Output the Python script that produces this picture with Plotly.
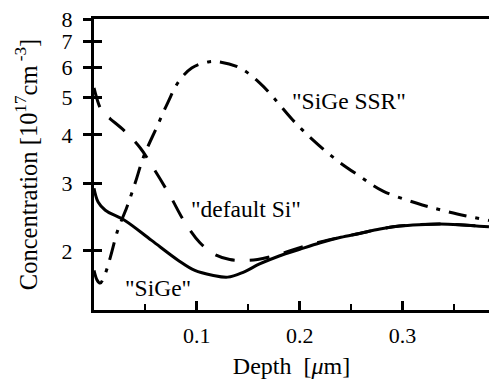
import numpy as np
import plotly.graph_objects as go

# Data (depth in um, concentration in 1e17 cm^-3)
sige_x = [0, 0.004, 0.011, 0.030, 0.056, 0.082, 0.098, 0.115, 0.130, 0.145, 0.161, 0.18, 0.2,
          0.22, 0.24, 0.258, 0.278, 0.297, 0.316, 0.336, 0.355, 0.384]
sige_y = [2.91, 2.68, 2.55, 2.40, 2.13, 1.89, 1.78, 1.73, 1.71, 1.76, 1.85, 1.94, 2.02,
          2.10, 2.17, 2.22, 2.28, 2.32, 2.34, 2.35, 2.34, 2.31]

si_x = [0, 0.008, 0.016, 0.03, 0.045, 0.059, 0.074, 0.088, 0.103, 0.117, 0.132, 0.147, 0.159,
        0.18, 0.2, 0.22, 0.24, 0.258, 0.278, 0.297, 0.316, 0.336, 0.355, 0.384]
si_y = [5.3, 4.59, 4.40, 4.09, 3.70, 3.24, 2.78, 2.38, 2.10, 1.96, 1.90, 1.89, 1.90,
        1.96, 2.04, 2.11, 2.17, 2.22, 2.28, 2.32, 2.34, 2.35, 2.34, 2.31]

ssr_x = [0, 0.003, 0.006, 0.01, 0.016, 0.023, 0.032, 0.04, 0.048, 0.061, 0.072, 0.082, 0.095,
         0.111, 0.122, 0.142, 0.161, 0.174, 0.193, 0.213, 0.236, 0.258, 0.281, 0.314, 0.346, 0.384]
ssr_y = [1.78, 1.68, 1.65, 1.72, 1.93, 2.26, 2.60, 3.00, 3.50, 4.19, 4.87, 5.49, 5.97,
         6.19, 6.19, 5.97, 5.46, 5.02, 4.38, 3.88, 3.44, 3.13, 2.86, 2.66, 2.52, 2.40]

labels = ['"SiGe SSR"', '"default Si"', '"SiGe"']
label_x = [0.248, 0.148, 0.0626]
label_y = [4.9, 2.57, 1.60]

x_ticks = [0.1, 0.2, 0.3]
x_minor = [0.05, 0.15, 0.25, 0.35]
y_ticks = [2, 3, 4, 5, 6, 7, 8]

FONT = "'Times New Roman', 'Liberation Serif', 'DejaVu Serif', serif"
fig = go.Figure()
fig.add_trace(go.Scatter(x=sige_x, y=sige_y, mode="lines", line=dict(color="black", width=3, shape="spline")))
fig.add_trace(go.Scatter(x=si_x, y=si_y, mode="lines", line=dict(color="black", width=3, dash="20px,15px", shape="spline")))
fig.add_trace(go.Scatter(x=ssr_x, y=ssr_y, mode="lines", line=dict(color="black", width=3, dash="18px,9px,4px,9px", shape="spline")))
# invisible trace for the overlay axis (inside ticks)
fig.add_trace(go.Scatter(x=[None], y=[None], yaxis="y2", showlegend=False))

for t, lx, ly in zip(labels, label_x, label_y):
    fig.add_annotation(x=lx, y=np.log10(ly), text=t, showarrow=False,
                       font=dict(family=FONT, size=23.5, color="black"))

yr = [np.log10(1.405), np.log10(8)]
fig.update_layout(
    width=489, height=381, showlegend=False,
    margin=dict(l=94, r=0, t=19, b=71),
    plot_bgcolor="white", paper_bgcolor="white",
    font=dict(family=FONT, size=22, color="black"),
    xaxis=dict(range=[0, 0.384], tickvals=x_ticks, ticktext=[str(v) for v in x_ticks],
               ticks="inside", ticklen=9, tickwidth=2.5, tickcolor="black",
               minor=dict(tickvals=x_minor, ticks="inside", ticklen=6, tickwidth=2, tickcolor="black"),
               showline=True, linewidth=3, linecolor="black", mirror=True,
               showgrid=False, zeroline=False, ticklabelstandoff=4,
               tickfont=dict(family=FONT, size=22),
               title=dict(text="Depth\u00a0\u00a0[<i>\u03bc</i>m]", standoff=10,
                          font=dict(family=FONT, size=24))),
    yaxis=dict(type="log", range=yr, tickvals=y_ticks, ticktext=[str(v) for v in y_ticks],
               ticks="outside", ticklen=8, tickwidth=2.5, tickcolor="black",
               showline=True, linewidth=3, linecolor="black",
               showgrid=False, zeroline=False, ticklabelstandoff=6,
               tickfont=dict(family=FONT, size=22),
               title=dict(text="Concentration [10<sup>17</sup>cm<sup> -3</sup>]", standoff=18,
                          font=dict(family=FONT, size=24.5))),
    yaxis2=dict(type="log", range=yr, overlaying="y", side="left", tickvals=y_ticks,
                ticks="inside", ticklen=8, tickwidth=2.5, tickcolor="black",
                showticklabels=False, showgrid=False, zeroline=False, showline=False),
)
fig.write_html("out.html")
